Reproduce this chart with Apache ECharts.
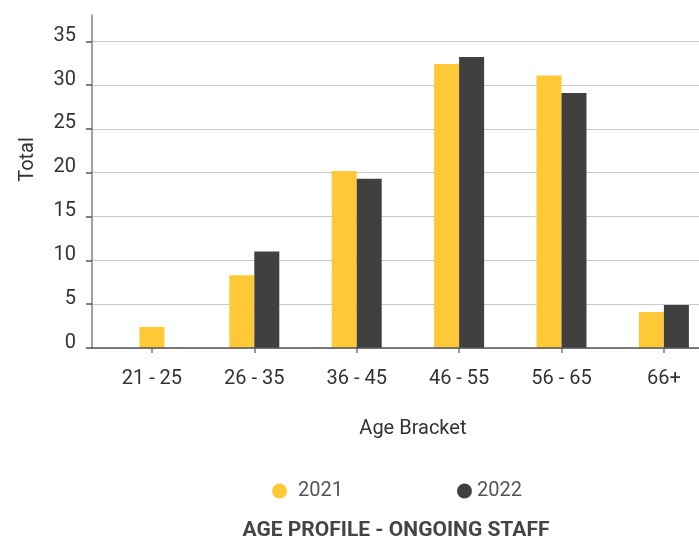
<!DOCTYPE html>
<html>
<head>
<meta charset="utf-8">
<script src="https://cdn.jsdelivr.net/npm/echarts@6/dist/echarts.min.js"></script>
<style>html,body{margin:0;padding:0;background:#fff;}#c{width:699px;height:538px;}</style>
</head>
<body>
<div id="c"></div>
<script>
const categories = ['21 - 25', '26 - 35', '36 - 45', '46 - 55', '56 - 65', '66+'];
const values2021 = [2.4, 8.3, 20.2, 32.4, 31.1, 4.1];
const values2022 = [null, 11.0, 19.3, 33.2, 29.1, 4.9];
const yTicks = [0, 5, 10, 15, 20, 25, 30, 35];
const seriesNames = ['2021', '2022'];

const FONT = 'Roboto';
// bars where both years exist share the pair layout; a lone bar is centred on its own axis
const paired2021 = values2021.map((v, i) => values2022[i] == null ? null : v);
const solo2021 = values2021.map((v, i) => values2022[i] == null ? v : null);

const chart = echarts.init(document.getElementById('c'), null, {renderer: 'canvas'});
chart.setOption({
  animation: false,
  backgroundColor: '#fff',
  textStyle: {fontFamily: FONT},
  title: {
    text: 'AGE PROFILE - ONGOING STAFF',
    left: 391, top: 526,
    textAlign: 'center', textVerticalAlign: 'middle',
    textStyle: {fontFamily: FONT, fontSize: 21, fontWeight: 'bold', color: '#444'}
  },
  legend: {
    data: [
      {name: seriesNames[0], textStyle: {padding: [0, 0, 0, 6]}},
      {name: seriesNames[1], textStyle: {padding: [0, 0, 0, 0]}}
    ],
    left: 272, top: 481, padding: 0,
    icon: 'circle', itemWidth: 15, itemHeight: 15, itemGap: 114,
    textStyle: {fontFamily: FONT, fontSize: 20, color: '#555'}
  },
  grid: [
    {left: 100.7, width: 614.4, top: 15, bottom: 190, outerBoundsMode: 'none', containLabel: false},
    {left: 92, width: 623.1, top: 15, bottom: 190, outerBoundsMode: 'none', containLabel: false}
  ],
  xAxis: [
    {
      type: 'category', gridIndex: 0, data: categories,
      axisLine: {show: false},
      axisTick: {show: true, alignWithLabel: true, length: 5, lineStyle: {color: '#777', width: 1.5}},
      axisLabel: {fontFamily: FONT, fontSize: 20, color: '#333', margin: 21},
      name: 'Age Bracket', nameLocation: 'middle', nameGap: 71,
      nameTextStyle: {fontFamily: FONT, fontSize: 20, color: '#333', padding: [0, 0, 0, 10]}
    },
    {
      type: 'category', gridIndex: 1, data: categories, z: 10,
      axisLine: {show: true, lineStyle: {color: '#555', width: 1.6}},
      axisTick: {show: false}, axisLabel: {show: false}
    },
    {
      type: 'category', gridIndex: 0, data: categories, show: false
    }
  ],
  yAxis: [
    {type: 'value', gridIndex: 0, min: 0, max: 38, show: false},
    {
      type: 'value', gridIndex: 1, min: 0, max: 38, interval: 5,
      axisLine: {show: true, lineStyle: {color: '#8a8a8a', width: 1.6}},
      axisTick: {show: true, length: 6, customValues: yTicks, lineStyle: {color: '#555', width: 1.5}},
      axisLabel: {customValues: yTicks, fontFamily: FONT, fontSize: 20, color: '#333', margin: 16,
                  verticalAlign: 'bottom', lineHeight: 11},
      splitLine: {show: true, lineStyle: {color: '#c8c8c8', width: 1}},
      name: 'Total', nameLocation: 'middle', nameGap: 54,
      nameTextStyle: {fontFamily: FONT, fontSize: 20, color: '#333', padding: [0, 0, 0, 44]}
    }
  ],
  series: [
    {
      name: seriesNames[0], type: 'bar', xAxisIndex: 0, yAxisIndex: 0,
      data: paired2021, barWidth: 25, barGap: '0%',
      itemStyle: {color: '#ffc836'}
    },
    {
      name: seriesNames[1], type: 'bar', xAxisIndex: 0, yAxisIndex: 0,
      data: values2022, barWidth: 25, barGap: '0%',
      itemStyle: {color: '#404041'}
    },
    {
      name: seriesNames[0], type: 'bar', xAxisIndex: 2, yAxisIndex: 0,
      data: solo2021, barWidth: 25,
      itemStyle: {color: '#ffc836'}
    }
  ]
});
</script>
</body>
</html>
